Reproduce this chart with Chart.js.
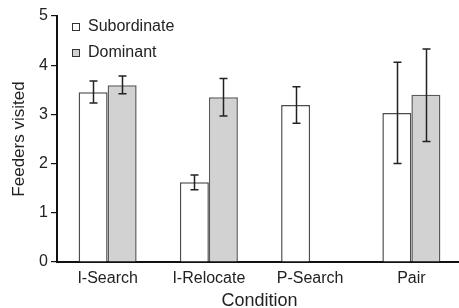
<!DOCTYPE html>
<html>
<head>
<meta charset="utf-8">
<script src="https://cdn.jsdelivr.net/npm/chart.js@4.4.0/dist/chart.umd.min.js"></script>
<style>
  html, body { margin: 0; padding: 0; background: #fff; overflow: hidden; }
  #wrap { position: relative; width: 462px; height: 308px; }
</style>
</head>
<body>
<div id="wrap"><canvas id="chart"></canvas></div>
<script>
const categories = ['I-Search', 'I-Relocate', 'P-Search', 'Pair'];

const subordinate = [3.45, 1.62, 3.19, 3.03];
const subordinateLow = [3.23, 1.47, 2.82, 2.00];
const subordinateHigh = [3.68, 1.77, 3.56, 4.06];

const dominant = [3.59, 3.35, null, 3.40];
const dominantLow = [3.42, 2.97, null, 2.45];
const dominantHigh = [3.78, 3.73, null, 4.33];

const yTicks = [0, 1, 2, 3, 4, 5];

const ink = '#222';
const font = 'Liberation Sans, Arial, Helvetica, sans-serif';

// error bars drawn on top of each bar from the low/high arrays
const errorBars = {
  id: 'errorBars',
  afterDatasetsDraw(chart) {
    const ctx = chart.ctx;
    const y = chart.scales.y;
    const ranges = [[subordinateLow, subordinateHigh], [dominantLow, dominantHigh]];
    ctx.save();
    ctx.strokeStyle = ink;
    ctx.lineWidth = 1.5;
    chart.data.datasets.forEach((ds, di) => {
      const meta = chart.getDatasetMeta(di);
      meta.data.forEach((bar, i) => {
        const lo = ranges[di][0][i];
        const hi = ranges[di][1][i];
        if (lo == null || hi == null) return;
        const x = Math.round(bar.x) + 0.5;
        const y1 = y.getPixelForValue(hi);
        const y2 = y.getPixelForValue(lo);
        ctx.beginPath();
        ctx.moveTo(x, y1); ctx.lineTo(x, y2);
        ctx.moveTo(x - 4, y1); ctx.lineTo(x + 4, y1);
        ctx.moveTo(x - 4, y2); ctx.lineTo(x + 4, y2);
        ctx.stroke();
      });
    });
    ctx.restore();
  }
};

// legend inside the plot, top left
const insideLegend = {
  id: 'insideLegend',
  afterDraw(chart) {
    const ctx = chart.ctx;
    const a = chart.chartArea;
    ctx.save();
    ctx.font = '16px ' + font;
    ctx.textBaseline = 'middle';
    chart.data.datasets.forEach((ds, i) => {
      const bx = a.left + 15.5;
      const cy = a.top + 11 + i * 26;
      ctx.fillStyle = ds.backgroundColor;
      ctx.fillRect(bx, cy - 3.5, 7, 7);
      ctx.strokeStyle = '#333';
      ctx.lineWidth = 1;
      ctx.strokeRect(bx, cy - 3.5, 7, 7);
      ctx.fillStyle = ink;
      ctx.fillText(ds.label, a.left + 31, cy);
    });
    ctx.restore();
  }
};

new Chart(document.getElementById('chart'), {
  type: 'bar',
  data: {
    labels: categories,
    datasets: [
      {
        label: 'Subordinate',
        data: subordinate,
        backgroundColor: '#ffffff',
        borderColor: '#4d4d4d',
        borderWidth: 1.5
      },
      {
        label: 'Dominant',
        data: dominant,
        backgroundColor: '#d2d2d2',
        borderColor: '#5a5a5a',
        borderWidth: 1.5
      }
    ]
  },
  options: {
    responsive: true,
    maintainAspectRatio: false,
    animation: false,
    categoryPercentage: 0.573,
    barPercentage: 1.0,
    layout: { padding: { top: 16, right: 0, bottom: 0, left: 0 } },
    plugins: {
      legend: { display: false },
      tooltip: { enabled: false }
    },
    scales: {
      x: {
        grid: { display: false, drawTicks: false },
        border: { display: true, color: '#111', width: 2 },
        ticks: { color: ink, font: { family: font, size: 16 }, padding: 7, maxRotation: 0 },
        title: {
          display: true,
          text: 'Condition',
          color: ink,
          font: { family: font, size: 18, lineHeight: 0.8 },
          padding: 0
        },
        afterFit(scale) { scale.height = 46; }
      },
      y: {
        min: 0,
        max: 5,
        afterBuildTicks(scale) { scale.ticks = yTicks.map(v => ({ value: v })); },
        grid: { drawOnChartArea: false, drawTicks: true, tickLength: 6, color: '#111', lineWidth: 1.2 },
        border: { display: true, color: '#111', width: 2 },
        ticks: { color: ink, font: { family: font, size: 16 }, padding: 3 },
        title: {
          display: true,
          text: 'Feeders visited',
          color: ink,
          font: { family: font, size: 17, lineHeight: 1.2 },
          padding: { top: 9, bottom: 0 }
        },
        afterFit(scale) { scale.width = 57; }
      }
    }
  },
  plugins: [errorBars, insideLegend]
});
</script>
</body>
</html>
